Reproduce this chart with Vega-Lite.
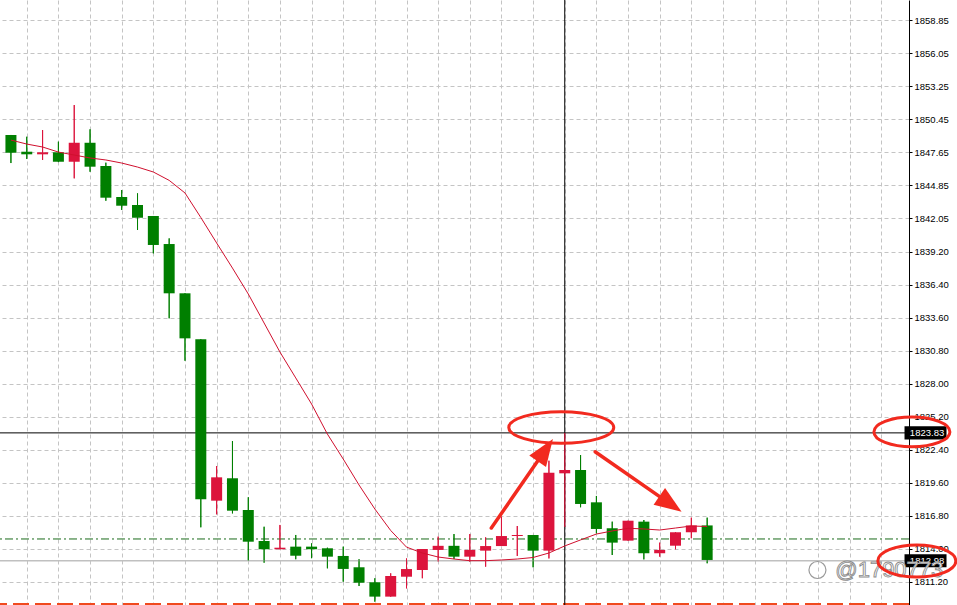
{
  "$schema": "https://vega.github.io/schema/vega-lite/v6.json",
  "width": 909,
  "height": 605,
  "autosize": {"type": "none"},
  "padding": {"left": 0, "top": 0, "right": 48, "bottom": 0},
  "background": "#ffffff",
  "config": {
    "view": {"stroke": null},
    "axis": {"grid": false, "labels": false, "ticks": false, "domain": false, "title": null}
  },
  "resolve": {"axis": {"x": "independent", "y": "independent"}},
  "datasets": {
    "candles": [
      {"i": 0, "open": 1849.10, "high": 1849.10, "low": 1846.72, "close": 1847.59, "ma": 1848.67},
      {"i": 1, "open": 1847.68, "high": 1848.95, "low": 1847.06, "close": 1847.46, "ma": 1848.33},
      {"i": 2, "open": 1847.46, "high": 1849.52, "low": 1846.98, "close": 1847.63, "ma": 1848.08},
      {"i": 3, "open": 1847.63, "high": 1848.53, "low": 1846.80, "close": 1846.83, "ma": 1847.65},
      {"i": 4, "open": 1846.83, "high": 1851.64, "low": 1845.42, "close": 1848.44, "ma": 1847.40},
      {"i": 5, "open": 1848.44, "high": 1849.58, "low": 1845.98, "close": 1846.41, "ma": 1847.15},
      {"i": 6, "open": 1846.47, "high": 1846.75, "low": 1843.52, "close": 1843.78, "ma": 1846.98},
      {"i": 7, "open": 1843.84, "high": 1844.43, "low": 1842.74, "close": 1843.10, "ma": 1846.72},
      {"i": 8, "open": 1843.16, "high": 1844.15, "low": 1841.04, "close": 1842.08, "ma": 1846.38},
      {"i": 9, "open": 1842.23, "high": 1842.23, "low": 1839.06, "close": 1839.77, "ma": 1845.96},
      {"i": 10, "open": 1839.85, "high": 1840.33, "low": 1833.55, "close": 1835.67, "ma": 1845.25},
      {"i": 11, "open": 1835.67, "high": 1835.67, "low": 1829.95, "close": 1831.85, "ma": 1844.18},
      {"i": 12, "open": 1831.77, "high": 1831.77, "low": 1815.82, "close": 1818.20, "ma": 1842.10},
      {"i": 13, "open": 1818.08, "high": 1821.02, "low": 1816.92, "close": 1820.06, "ma": 1839.94},
      {"i": 14, "open": 1819.98, "high": 1823.14, "low": 1817.00, "close": 1817.23, "ma": 1837.81},
      {"i": 15, "open": 1817.29, "high": 1818.37, "low": 1813.00, "close": 1814.60, "ma": 1835.61},
      {"i": 16, "open": 1814.66, "high": 1815.87, "low": 1812.82, "close": 1813.96, "ma": 1833.15},
      {"i": 17, "open": 1813.96, "high": 1816.02, "low": 1813.96, "close": 1814.09, "ma": 1830.69},
      {"i": 18, "open": 1814.18, "high": 1815.17, "low": 1813.11, "close": 1813.41, "ma": 1828.49},
      {"i": 19, "open": 1814.18, "high": 1814.46, "low": 1813.20, "close": 1813.96, "ma": 1826.28},
      {"i": 20, "open": 1814.04, "high": 1814.09, "low": 1812.34, "close": 1813.33, "ma": 1823.73},
      {"i": 21, "open": 1813.39, "high": 1814.18, "low": 1811.21, "close": 1812.29, "ma": 1821.61},
      {"i": 22, "open": 1812.43, "high": 1813.11, "low": 1810.84, "close": 1811.12, "ma": 1819.41},
      {"i": 23, "open": 1811.16, "high": 1811.50, "low": 1809.51, "close": 1809.94, "ma": 1817.37},
      {"i": 24, "open": 1809.94, "high": 1811.92, "low": 1809.94, "close": 1811.69, "ma": 1815.55},
      {"i": 25, "open": 1811.63, "high": 1813.18, "low": 1810.64, "close": 1812.28, "ma": 1814.14},
      {"i": 26, "open": 1812.20, "high": 1813.98, "low": 1811.50, "close": 1813.98, "ma": 1813.64},
      {"i": 27, "open": 1813.90, "high": 1815.03, "low": 1812.92, "close": 1814.25, "ma": 1813.30},
      {"i": 28, "open": 1814.25, "high": 1815.25, "low": 1813.13, "close": 1813.33, "ma": 1813.13},
      {"i": 29, "open": 1813.33, "high": 1815.25, "low": 1812.90, "close": 1813.90, "ma": 1812.99},
      {"i": 30, "open": 1813.84, "high": 1814.97, "low": 1812.48, "close": 1814.23, "ma": 1812.99},
      {"i": 31, "open": 1814.23, "high": 1816.72, "low": 1814.23, "close": 1815.08, "ma": 1813.05},
      {"i": 32, "open": 1815.08, "high": 1815.93, "low": 1813.39, "close": 1815.17, "ma": 1813.13},
      {"i": 33, "open": 1815.17, "high": 1815.17, "low": 1812.43, "close": 1813.84, "ma": 1813.26},
      {"i": 34, "open": 1813.84, "high": 1821.47, "low": 1813.18, "close": 1820.45, "ma": 1813.64},
      {"i": 35, "open": 1820.40, "high": 1823.83, "low": 1815.85, "close": 1820.68, "ma": 1814.24},
      {"i": 36, "open": 1820.68, "high": 1821.95, "low": 1817.52, "close": 1817.80, "ma": 1814.75},
      {"i": 37, "open": 1817.94, "high": 1818.48, "low": 1815.31, "close": 1815.68, "ma": 1815.25},
      {"i": 38, "open": 1815.74, "high": 1816.30, "low": 1813.47, "close": 1814.52, "ma": 1815.51},
      {"i": 39, "open": 1814.69, "high": 1816.38, "low": 1814.69, "close": 1816.38, "ma": 1815.74},
      {"i": 40, "open": 1816.30, "high": 1816.44, "low": 1813.10, "close": 1813.62, "ma": 1815.68},
      {"i": 41, "open": 1813.62, "high": 1814.52, "low": 1813.33, "close": 1813.90, "ma": 1815.59},
      {"i": 42, "open": 1814.26, "high": 1815.40, "low": 1813.96, "close": 1815.40, "ma": 1815.76},
      {"i": 43, "open": 1815.40, "high": 1816.64, "low": 1814.89, "close": 1815.98, "ma": 1815.93},
      {"i": 44, "open": 1815.98, "high": 1816.64, "low": 1812.77, "close": 1813.05, "ma": 1815.89}
    ],
    "priceLabels": [
      {"price": 1823.83, "label": "1823.83"},
      {"price": 1812.99, "label": "1812.98"}
    ]
  },
  "layer": [
    {
      "data": {"name": "candles"},
      "mark": {"type": "rule", "strokeWidth": 1},
      "encoding": {
        "x": {
          "field": "i", "type": "quantitative", "title": null,
          "scale": {"domain": [-0.375, 56.44], "nice": false, "zero": false},
          "axis": {"values": [1, 3, 5, 7, 9, 11, 13, 15, 17, 19, 21, 23, 25, 27, 29, 31, 33, 35, 37, 39, 41, 43, 45, 47, 49, 51, 53, 55],
                   "labels": false, "ticks": false, "domain": false, "title": null,
                   "grid": true, "gridColor": "#c4c4c4", "gridDash": [4, 3], "gridWidth": 1}
        },
        "y": {
          "field": "low", "type": "quantitative", "title": null,
          "scale": {"domain": [1809.23, 1860.55], "nice": false, "zero": false},
          "axis": {
            "orient": "right",
            "values": [1858.85, 1856.05, 1853.25, 1850.45, 1847.65, 1844.85, 1842.05, 1839.20, 1836.40, 1833.60, 1830.80, 1828.00, 1825.20, 1822.40, 1819.60, 1816.80, 1814.00, 1811.20],
            "format": ".2f", "title": null,
            "grid": true, "gridColor": "#c4c4c4", "gridDash": [4, 3], "gridWidth": 1,
            "domain": true, "domainColor": "#000000", "domainWidth": 1,
            "ticks": true, "tickColor": "#000000", "tickSize": 3,
            "labels": true, "labelFont": "Liberation Sans", "labelFontSize": 9.5, "labelColor": "#000000",
            "labelPadding": 2, "labelOverlap": false, "labelSeparation": 0
          }
        },
        "y2": {"field": "high"},
        "color": {"condition": {"test": "datum.close > datum.open", "value": "#dc143c"}, "value": "#007f00"}
      }
    },
    {
      "data": {"values": [{"price": 1809.32}]},
      "mark": {"type": "rule", "color": "#f04a1e", "strokeWidth": 2, "strokeDash": [16, 6]},
      "encoding": {
        "y": {"field": "price", "type": "quantitative", "axis": null}
      }
    },
    {
      "data": {"values": [{"price": 1812.99}]},
      "mark": {"type": "rule", "color": "#c0c0c0", "strokeWidth": 1.5},
      "encoding": {
        "y": {"field": "price", "type": "quantitative", "axis": null}
      }
    },
    {
      "data": {"values": [{"price": 1814.83}]},
      "mark": {"type": "rule", "color": "#1a6b1a", "strokeWidth": 1, "strokeDash": [8, 3, 2, 3]},
      "encoding": {
        "y": {"field": "price", "type": "quantitative", "axis": null}
      }
    },
    {
      "data": {"values": [{"price": 1823.83}]},
      "mark": {"type": "rule", "color": "#000000", "strokeWidth": 1},
      "encoding": {
        "y": {"field": "price", "type": "quantitative", "axis": null}
      }
    },
    {
      "data": {"values": [{"i": 35}]},
      "mark": {"type": "rule", "color": "#000000", "strokeWidth": 1},
      "encoding": {
        "x": {"field": "i", "type": "quantitative", "axis": null}
      }
    },
    {
      "data": {"name": "candles"},
      "mark": {"type": "rule", "strokeWidth": 1},
      "encoding": {
        "x": {"field": "i", "type": "quantitative", "axis": null},
        "y": {"field": "low", "type": "quantitative", "axis": null},
        "y2": {"field": "high"},
        "color": {"condition": {"test": "datum.close > datum.open", "value": "#dc143c"}, "value": "#007f00"}
      }
    },
    {
      "data": {"name": "candles"},
      "mark": {"type": "bar", "width": 11},
      "encoding": {
        "x": {"field": "i", "type": "quantitative", "axis": null},
        "y": {"field": "open", "type": "quantitative", "axis": null},
        "y2": {"field": "close"},
        "color": {"condition": {"test": "datum.close > datum.open", "value": "#dc143c"}, "value": "#007f00"}
      }
    },
    {
      "data": {"name": "candles"},
      "mark": {"type": "line", "color": "#d0102e", "strokeWidth": 1},
      "encoding": {
        "x": {"field": "i", "type": "quantitative", "axis": null},
        "y": {"field": "ma", "type": "quantitative", "axis": null}
      }
    },
    {
      "data": {"name": "priceLabels"},
      "mark": {"type": "point", "shape": "M-1,-0.31L1,-0.31L1,0.31L-1,0.31Z", "size": 1764, "filled": true, "color": "#000000", "opacity": 1},
      "encoding": {
        "x": {"datum": 57.8, "type": "quantitative", "axis": null},
        "y": {"field": "price", "type": "quantitative", "axis": null}
      }
    },
    {
      "data": {"name": "priceLabels"},
      "mark": {"type": "text", "align": "left", "baseline": "middle", "color": "#ffffff", "font": "Liberation Sans", "fontSize": 9.5},
      "encoding": {
        "x": {"datum": 56.81, "type": "quantitative", "axis": null},
        "y": {"field": "price", "type": "quantitative", "axis": null},
        "text": {"field": "label"}
      }
    },
    {
      "data": {"values": [{"label": "@1790773"}]},
      "mark": {"type": "text", "align": "left", "baseline": "middle", "fill": "#ffffff", "stroke": "#8c8c8c", "strokeWidth": 0.9, "font": "Liberation Sans", "fontSize": 22},
      "encoding": {
        "x": {"datum": 52.1, "type": "quantitative", "axis": null},
        "y": {"datum": 1812.2, "type": "quantitative", "axis": null},
        "text": {"field": "label"}
      }
    },
    {
      "data": {"values": [{}]},
      "mark": {"type": "point", "shape": "circle", "size": 289, "filled": false, "color": "#9a9a9a", "strokeWidth": 1.2, "opacity": 1},
      "encoding": {
        "x": {"datum": 50.97, "type": "quantitative", "axis": null},
        "y": {"datum": 1812.2, "type": "quantitative", "axis": null}
      }
    },
    {
      "data": {"values": [{}]},
      "mark": {"type": "point", "shape": "M-1,0A1,0.3,0,1,1,1,0A1,0.3,0,1,1,-1,0Z", "size": 11025, "filled": false, "color": "#f22a1f", "strokeWidth": 3, "opacity": 1},
      "encoding": {
        "x": {"datum": 34.78, "type": "quantitative", "axis": null},
        "y": {"datum": 1824.29, "type": "quantitative", "axis": null}
      }
    },
    {
      "data": {"values": [{}]},
      "mark": {"type": "point", "shape": "M-1,0A1,0.39,0,1,1,1,0A1,0.39,0,1,1,-1,0Z", "size": 5776, "filled": false, "color": "#f22a1f", "strokeWidth": 3, "opacity": 1},
      "encoding": {
        "x": {"datum": 56.94, "type": "quantitative", "axis": null},
        "y": {"datum": 1823.91, "type": "quantitative", "axis": null}
      }
    },
    {
      "data": {"values": [{}]},
      "mark": {"type": "point", "shape": "M-1,0A1,0.41,0,1,1,1,0A1,0.41,0,1,1,-1,0Z", "size": 6084, "filled": false, "color": "#f22a1f", "strokeWidth": 3, "opacity": 1},
      "encoding": {
        "x": {"datum": 57.25, "type": "quantitative", "axis": null},
        "y": {"datum": 1812.96, "type": "quantitative", "axis": null}
      }
    },
    {
      "data": {"values": [{}]},
      "mark": {"type": "rule", "color": "#f22a1f", "strokeWidth": 3.5, "strokeCap": "round"},
      "encoding": {
        "x": {"datum": 30.36, "type": "quantitative", "axis": null},
        "y": {"datum": 1815.76, "type": "quantitative", "axis": null},
        "x2": {"datum": 33.77},
        "y2": {"datum": 1822.37}
      }
    },
    {
      "data": {"values": [{}]},
      "mark": {"type": "point", "shape": "M0,-1L0.75,1L-0.75,1Z", "size": 729, "filled": true, "color": "#f22a1f", "opacity": 1, "angle": 34.4},
      "encoding": {
        "x": {"datum": 33.77, "type": "quantitative", "axis": null},
        "y": {"datum": 1822.37, "type": "quantitative", "axis": null}
      }
    },
    {
      "data": {"values": [{}]},
      "mark": {"type": "rule", "color": "#f22a1f", "strokeWidth": 3.5, "strokeCap": "round"},
      "encoding": {
        "x": {"datum": 36.92, "type": "quantitative", "axis": null},
        "y": {"datum": 1822.23, "type": "quantitative", "axis": null},
        "x2": {"datum": 41.68},
        "y2": {"datum": 1817.79}
      }
    },
    {
      "data": {"values": [{}]},
      "mark": {"type": "point", "shape": "M0,-1L0.75,1L-0.75,1Z", "size": 729, "filled": true, "color": "#f22a1f", "opacity": 1, "angle": 124.5},
      "encoding": {
        "x": {"datum": 41.68, "type": "quantitative", "axis": null},
        "y": {"datum": 1817.79, "type": "quantitative", "axis": null}
      }
    }
  ]
}
